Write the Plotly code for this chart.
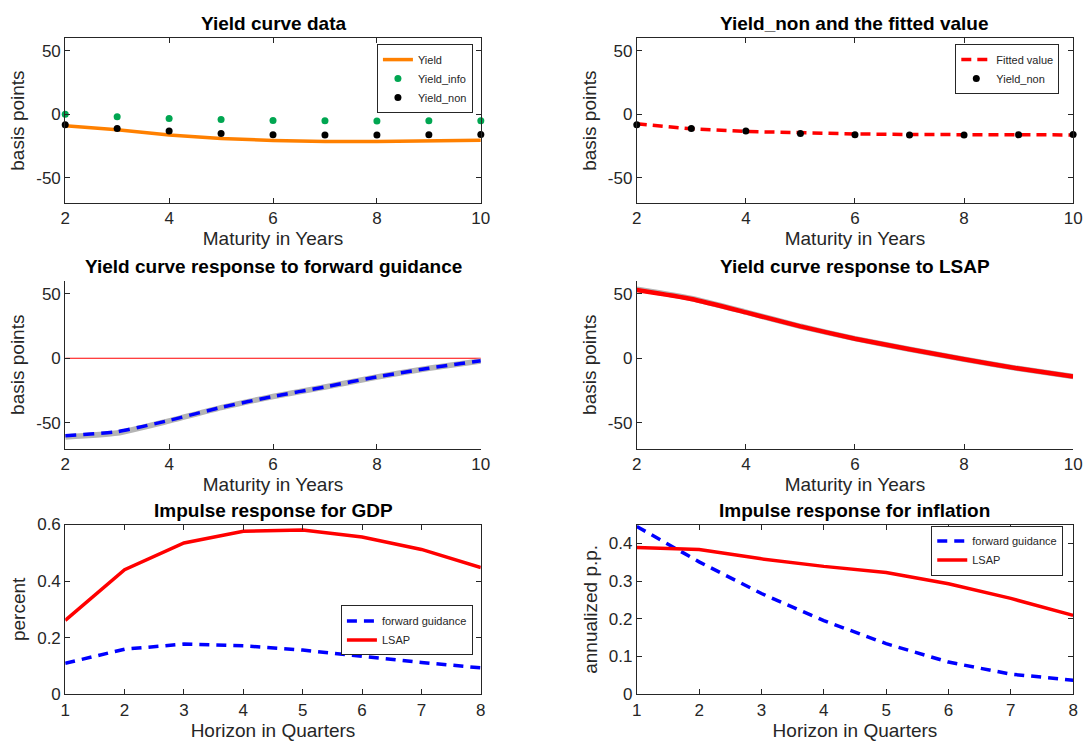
import plotly.graph_objects as go
from plotly.subplots import make_subplots

# ---------------- data ----------------
maturity = [2, 3, 4, 5, 6, 7, 8, 9, 10]
yield_curve = [-9, -12.3, -16.4, -19.2, -20.7, -21.5, -21.6, -21.3, -20.6]
yield_info = [0, -2, -3.3, -4.1, -4.9, -5.1, -5.4, -5.1, -5.1]
yield_non = [-8.2, -11.3, -13.3, -15.1, -16.2, -16.4, -16.4, -16.2, -15.9]
fitted = [-7.5, -11.5, -13.6, -14.8, -15.5, -16.0, -16.2, -16.3, -16.3]

fg_yield = [-60, -57, -48.2, -38.1, -29.6, -22.2, -14.4, -7.7, -2]
fg_yield_band = [-61, -58, -48.6, -38.3, -29.7, -22.3, -14.5, -7.8, -2.1]
lsap_yield = [53, 46, 35.6, 24.7, 15.2, 7, -0.8, -8, -14.2]
lsap_yield_band = [53.6, 46.4, 35.8, 24.8, 15.2, 7, -0.8, -8, -14.2]
zero_line = [0, 0]
zero_x = [2, 10]

quarters = [1, 2, 3, 4, 5, 6, 7, 8]
gdp_fg = [0.109, 0.159, 0.177, 0.171, 0.156, 0.133, 0.112, 0.093]
gdp_lsap = [0.261, 0.44, 0.535, 0.576, 0.581, 0.556, 0.512, 0.448]
inf_fg = [0.445, 0.351, 0.267, 0.195, 0.134, 0.085, 0.053, 0.037]
inf_lsap = [0.389, 0.384, 0.359, 0.339, 0.323, 0.293, 0.254, 0.209]

yr_ticks = [2, 4, 6, 8, 10]
bp_ticks = [-50, 0, 50]
bp_text = ["-50", "0", "50"]
q_ticks = [1, 2, 3, 4, 5, 6, 7, 8]
gdp_ticks = [0, 0.2, 0.4, 0.6]
inf_ticks = [0, 0.1, 0.2, 0.3, 0.4]

titles = ["Yield curve data", "Yield_non and the fitted value",
          "Yield curve response to forward guidance", "Yield curve response to LSAP",
          "Impulse response for GDP", "Impulse response for inflation"]

# ---------------- style ----------------
TXT = "#262626"
FONT = "Liberation Sans, Arial, Helvetica, sans-serif"
ORANGE = "#FF8000"
GREEN = "#00A651"
RED = "#FF0000"
BLUE = "#0000FF"
GRAY = "#B4B4B4"

W, H = 1092, 747
xl = (61 / W, 482 / W)
xr = (640 / W, 1082 / W)
rows_px = [(30, 199), (279, 451), (529, 703)]
ydom = [(1 - b / H, 1 - t / H) for t, b in rows_px]

fig = make_subplots(rows=3, cols=2)

# Row 1 left
fig.add_trace(go.Scatter(x=maturity, y=yield_curve, mode="lines", name="Yield",
                         line=dict(color=ORANGE, width=3.5), legend="legend"), 1, 1)
fig.add_trace(go.Scatter(x=maturity, y=yield_info, mode="markers", name="Yield_info",
                         marker=dict(color=GREEN, size=7), legend="legend", cliponaxis=False), 1, 1)
fig.add_trace(go.Scatter(x=maturity, y=yield_non, mode="markers", name="Yield_non",
                         marker=dict(color="black", size=7), legend="legend", cliponaxis=False), 1, 1)
# Row 1 right
fig.add_trace(go.Scatter(x=maturity, y=fitted, mode="lines", name="Fitted value",
                         line=dict(color=RED, width=3.5, dash="10px,6px"), legend="legend2"), 1, 2)
fig.add_trace(go.Scatter(x=maturity, y=yield_non, mode="markers", name="Yield_non",
                         marker=dict(color="black", size=7), legend="legend2", cliponaxis=False), 1, 2)
# Row 2 left
fig.add_trace(go.Scatter(x=zero_x, y=zero_line, mode="lines", showlegend=False,
                         line=dict(color=RED, width=1.2)), 2, 1)
fig.add_trace(go.Scatter(x=maturity, y=fg_yield_band, mode="lines", showlegend=False,
                         line=dict(color=GRAY, width=5.5, shape="spline", smoothing=0.5)), 2, 1)
fig.add_trace(go.Scatter(x=maturity, y=fg_yield, mode="lines", showlegend=False,
                         line=dict(color=BLUE, width=3.5, dash="11px,7px", shape="spline", smoothing=0.5)), 2, 1)
# Row 2 right
fig.add_trace(go.Scatter(x=maturity, y=lsap_yield_band, mode="lines", showlegend=False,
                         line=dict(color=GRAY, width=5.5, shape="spline", smoothing=0.5)), 2, 2)
fig.add_trace(go.Scatter(x=maturity, y=lsap_yield, mode="lines", showlegend=False,
                         line=dict(color=RED, width=4.5, shape="spline", smoothing=0.5)), 2, 2)
# Row 3 left
fig.add_trace(go.Scatter(x=quarters, y=gdp_fg, mode="lines", name="forward guidance",
                         line=dict(color=BLUE, width=3.5, dash="10px,7px"), legend="legend3"), 3, 1)
fig.add_trace(go.Scatter(x=quarters, y=gdp_lsap, mode="lines", name="LSAP",
                         line=dict(color=RED, width=3.5), legend="legend3"), 3, 1)
# Row 3 right
fig.add_trace(go.Scatter(x=quarters, y=inf_fg, mode="lines", name="forward guidance",
                         line=dict(color=BLUE, width=3.5, dash="10px,7px"), legend="legend4"), 3, 2)
fig.add_trace(go.Scatter(x=quarters, y=inf_lsap, mode="lines", name="LSAP",
                         line=dict(color=RED, width=3.5), legend="legend4"), 3, 2)

# ---------------- axes ----------------
common = dict(showline=True, linecolor=TXT, linewidth=1, ticks="inside", ticklen=5,
              tickcolor=TXT, tickwidth=1, showgrid=False, zeroline=False,
              tickfont=dict(size=17, color=TXT, family=FONT),
              title_font=dict(size=19, color=TXT, family=FONT))

for r in range(1, 4):
    for c in range(1, 3):
        boxed = r != 2
        xkw = dict(common, mirror="ticks" if boxed else False,
                   domain=list(xl if c == 1 else xr))
        ykw = dict(common, mirror="ticks" if boxed else False,
                   domain=list(ydom[r - 1]))
        if r < 3:
            xkw.update(range=[2, 10], tickvals=yr_ticks, title_text="Maturity in Years",
                       title_standoff=3)
            ykw.update(range=[-70, 60], tickvals=bp_ticks, ticktext=bp_text,
                       title_text="basis points", title_standoff=6)
        else:
            xkw.update(range=[1, 8], tickvals=q_ticks, title_text="Horizon in Quarters",
                       title_standoff=3)
            if c == 1:
                ykw.update(range=[0, 0.6], tickvals=gdp_ticks, ticktext=["0", "0.2", "0.4", "0.6"],
                           title_text="percent", title_standoff=6)
            else:
                ykw.update(range=[0, 0.45], tickvals=inf_ticks,
                           ticktext=["0", "0.1", "0.2", "0.3", "0.4"],
                           title_text="annualized p.p.", title_standoff=6)
        fig.update_xaxes(row=r, col=c, **xkw)
        fig.update_yaxes(row=r, col=c, **ykw)

# ---------------- titles ----------------
title_y = [15, 264, 515]
anns = []
for i, t in enumerate(titles):
    r, c = divmod(i, 2)
    xd = xl if c == 0 else xr
    anns.append(dict(text="<b>%s</b>" % t, x=(xd[0] + xd[1]) / 2, y=1 - title_y[r] / H,
                     xref="paper", yref="paper", xanchor="center", yanchor="middle",
                     showarrow=False, font=dict(size=19, color="black", family=FONT)))

leg = dict(bgcolor="white", bordercolor="#262626", borderwidth=1,
           font=dict(size=11, color=TXT, family=FONT), xanchor="right", yanchor="top",
           tracegroupgap=0, itemwidth=30)

fig.update_layout(
    width=W, height=H, margin=dict(l=0, r=0, t=0, b=0),
    paper_bgcolor="white", plot_bgcolor="white",
    font=dict(family=FONT, color=TXT),
    annotations=anns,
    legend=dict(leg, x=474 / W, y=1 - 36 / H),
    legend2=dict(leg, x=1068 / W, y=1 - 36 / H),
    legend3=dict(leg, x=474 / W, y=1 - 612 / H),
    legend4=dict(leg, x=1072 / W, y=1 - 530 / H),
)

fig.write_html("out.html")
